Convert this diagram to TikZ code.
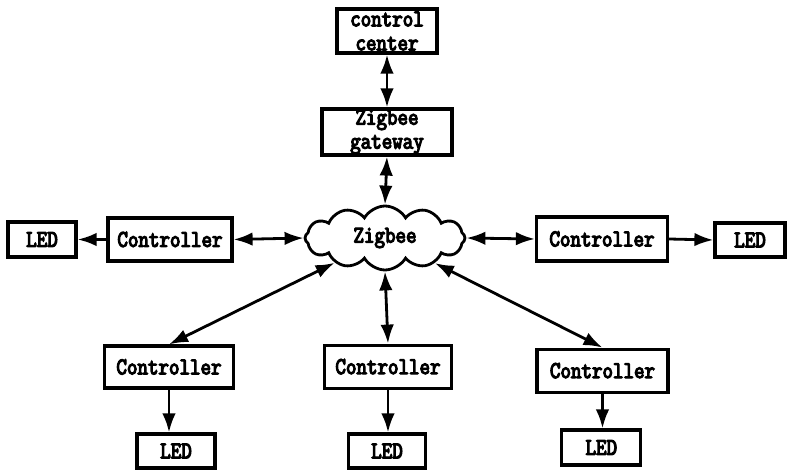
\documentclass[tikz,border=0pt]{standalone}
\usepackage{fontspec}
\newfontfamily\labfont{Latin Modern Mono}[FakeBold=5,FakeStretch=0.85]
\usetikzlibrary{shapes.symbols,arrows.meta}
\begin{document}
\begin{tikzpicture}[x=1pt,y=-1pt,
  labtext/.style={font=\labfont\fontsize{24}{24}\selectfont},
  box/.style={draw,line width=3.2pt,inner sep=0pt,align=center,labtext},
  conn/.style={line width=2.8pt,-{Latex[length=19pt,width=13.5pt]}},
  biconn/.style={line width=2.8pt,{Latex[length=19pt,width=13.5pt]}-{Latex[length=19pt,width=13.5pt]}}]
\useasboundingbox (0,0) rectangle (787,470);
% top chain
\node[box,minimum width=100pt,minimum height=44pt] (cc) at (387,31) {control\\center};
\node[box,minimum width=130pt,minimum height=46pt] (gw) at (387,132) {Zigbee\\gateway};
\node[draw,cloud,cloud puffs=12,cloud puff arc=120,aspect=2.45,line width=2.8pt,
      minimum width=160pt,minimum height=64pt,inner sep=0pt,labtext] (zig) at (385,238) {Zigbee};
% side controllers and LEDs
\node[box,minimum width=124pt,minimum height=43pt] (cL) at (170,239.5) {Controller};
\node[box,minimum width=68pt,minimum height=35pt] (ledL) at (42,239.5) {LED};
\node[box,minimum width=131pt,minimum height=44pt] (cR) at (602,239) {Controller};
\node[box,minimum width=70pt,minimum height=34pt] (ledR) at (750,240) {LED};
% bottom controllers and LEDs
\node[box,minimum width=129pt,minimum height=42pt] (cBL) at (169,367) {Controller};
\node[box,minimum width=78pt,minimum height=34pt] (ledBL) at (176,451) {LED};
\node[box,minimum width=127pt,minimum height=43pt] (cBM) at (388,366.7) {Controller};
\node[box,minimum width=77pt,minimum height=34pt] (ledBM) at (387,451) {LED};
\node[box,minimum width=131pt,minimum height=43pt] (cBR) at (602.5,370.7) {Controller};
\node[box,minimum width=79pt,minimum height=35pt] (ledBR) at (601.3,447.5) {LED};
% connectors
\draw[biconn] (cc.south) -- (gw.north);
\draw[biconn] (gw.south) -- (zig.north);
\draw[biconn] (cL.east) -- (zig.west);
\draw[conn] (cL.west) -- (ledL.east);
\draw[biconn] (zig.east) -- (cR.west);
\draw[conn] (cR.east) -- (ledR.west);
\draw[biconn] (zig) -- (cBL.north);
\draw[biconn] (zig.south) -- (cBM.north);
\draw[biconn] (zig) -- (cBR.north);
\draw[conn] (cBL.south) -- (cBL.south |- ledBL.north);
\draw[conn] (cBM.south) -- (cBM.south |- ledBM.north);
\draw[conn] (cBR.south) -- (cBR.south |- ledBR.north);
\end{tikzpicture}
\end{document}
